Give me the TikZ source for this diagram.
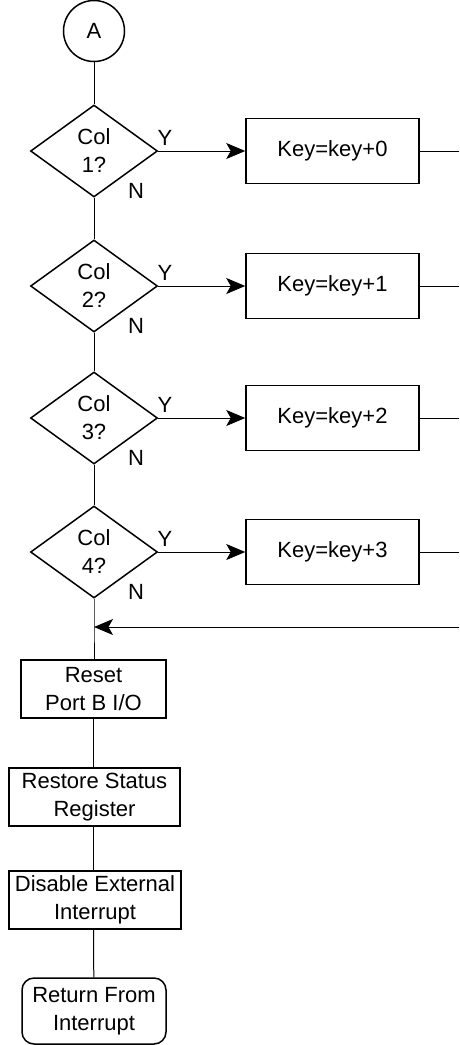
\documentclass[tikz,border=0pt]{standalone}
\usepackage{fontspec}
\setmainfont{Liberation Sans}
\usetikzlibrary{shapes.geometric,arrows.meta}
\begin{document}
\begin{tikzpicture}[x=1pt,y=-1pt,
  every node/.style={font=\fontsize{22}{28}\selectfont, align=center, inner sep=0pt},
  shapeline/.style={draw, line width=1.5pt},
  connector/.style={draw, line width=1pt},
  decision/.style={shapeline, diamond, minimum width=127pt, minimum height=92pt},
  procbox/.style={shapeline, rectangle, minimum width=173pt, minimum height=65pt},
  leftbox/.style={shapeline, rectangle, minimum height=58pt},
  endbox/.style={shapeline, rectangle, rounded corners=12pt, minimum width=144pt, minimum height=66pt},
  conn/.style={shapeline, circle, minimum size=61pt},
  bigarrow/.style={connector, -{Stealth[length=19pt,width=16pt,inset=4.5pt]}},
  lbl/.style={font=\fontsize{22}{26}\selectfont}
]
\useasboundingbox (0,0) rectangle (459,1045);

\node[conn] (A) at (94,31) {A};

\node[decision] (d1) at (94,151) {Col\\1?};
\node[decision] (d2) at (94,286) {Col\\2?};
\node[decision] (d3) at (94,418) {Col\\3?};
\node[decision] (d4) at (94,552) {Col\\4?};

\node[procbox] (k1) at (332.5,151) {Key=key+0};
\node[procbox] (k2) at (332.5,286) {Key=key+1};
\node[procbox] (k3) at (332.5,418) {Key=key+2};
\node[procbox] (k4) at (332.5,552) {Key=key+3};

\foreach \i in {1,2,3,4}{
  \node[lbl] (y\i) at ([shift={(71,-13)}]d\i.center) {Y};
  \node[lbl] (n\i) at ([shift={(42,40)}]d\i.center) {N};
}

\coordinate (e1) at (459,151);
\coordinate (e2) at (459,286);
\coordinate (e3) at (459,418);
\coordinate (e4) at (459,552);
\coordinate (ein) at (459,627);
\coordinate (join) at (94,627);

\node[leftbox, minimum width=145pt] (reset) at (93.5,689) {Reset\\Port B I/O};
\node[leftbox, minimum width=171pt] (restore) at (94.5,797) {Restore Status\\Register};
\node[leftbox, minimum width=172pt] (disable) at (95,900) {Disable External\\Interrupt};
\node[endbox] (ret) at (94,1011) {Return From\\Interrupt};

\draw[connector] (A) -- (d1);
\draw[connector] (d1) -- (d2);
\draw[connector] (d2) -- (d3);
\draw[connector] (d3) -- (d4);
\draw[connector] (d4.south) -- (join) -- (reset.north -| join);
\draw[connector] (reset) -- (restore.north -| reset);
\draw[connector] (restore.south -| reset) -- (disable.north -| reset);
\draw[connector] (disable.south -| reset) -- (ret);

\foreach \i in {1,2,3,4}{
  \draw[bigarrow] (d\i.east) -- (k\i.west);
  \draw[connector] (k\i.east) -- (e\i);
}
\draw[bigarrow] (ein) -- (join);
\end{tikzpicture}
\end{document}
